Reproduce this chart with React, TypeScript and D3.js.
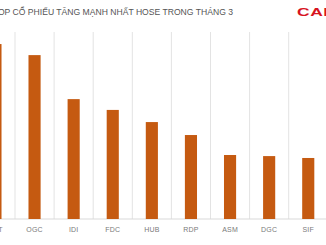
import React from "react";
import * as d3 from "d3";

const categories = ["HVT", "OGC", "IDI", "FDC", "HUB", "RDP", "ASM", "DGC", "SIF"];
const values = [64.8, 60.7, 44.4, 40.4, 35.9, 31.1, 23.7, 23.3, 22.6];
const title = "TOP CỔ PHIẾU TĂNG MẠNH NHẤT  HOSE TRONG THÁNG 3";
const logo = "CAFEF";

const W = 326;
const H = 245;

export default function App() {
  const x = d3.scaleBand<string>().domain(categories).range([-24.1, 327.8]).padding(0);
  const y = d3.scaleLinear().domain([0, 70]).range([219, 30]);
  const bw = x.bandwidth() * 0.31;
  const gridXs = categories.map((c) => (x(c) as number) + x.bandwidth());

  return (
    <svg
      width={W}
      height={H}
      style={{ position: "absolute", left: 0, top: 0, background: "#fff" }}
      fontFamily="'Liberation Sans', Arial, sans-serif"
    >
      <rect x={0} y={0} width={W} height={H} fill="#fff" />
      <text x={233} y={15} textAnchor="end" fontSize={8.6} fill="#555555" fontWeight={500}>
        {title}
      </text>
      <g transform="translate(297,15.5) scale(1.75,1)">
        <text x={0} y={0} fontSize={10} fontWeight={700} fill="#d7141f" letterSpacing={0.3}>
          {logo}
        </text>
      </g>
      {gridXs.map((gx, i) => (
        <line key={i} x1={gx} x2={gx} y1={32} y2={219} stroke="#e3e3e3" strokeWidth={1} />
      ))}
      <line x1={0} x2={W} y1={219} y2={219} stroke="#d9d9d9" strokeWidth={1} />
      {categories.map((c, i) => {
        const cx = (x(c) as number) + x.bandwidth() / 2;
        return (
          <rect
            key={c}
            x={cx - bw / 2}
            y={y(values[i])}
            width={bw}
            height={y(0) - y(values[i])}
            fill="#c55a11"
          />
        );
      })}
      {categories.map((c) => {
        const cx = (x(c) as number) + x.bandwidth() / 2;
        return (
          <text key={c} x={cx} y={232} textAnchor="middle" fontSize={7} fill="#7a7a7a" letterSpacing={0.2}>
            {c}
          </text>
        );
      })}
    </svg>
  );
}
